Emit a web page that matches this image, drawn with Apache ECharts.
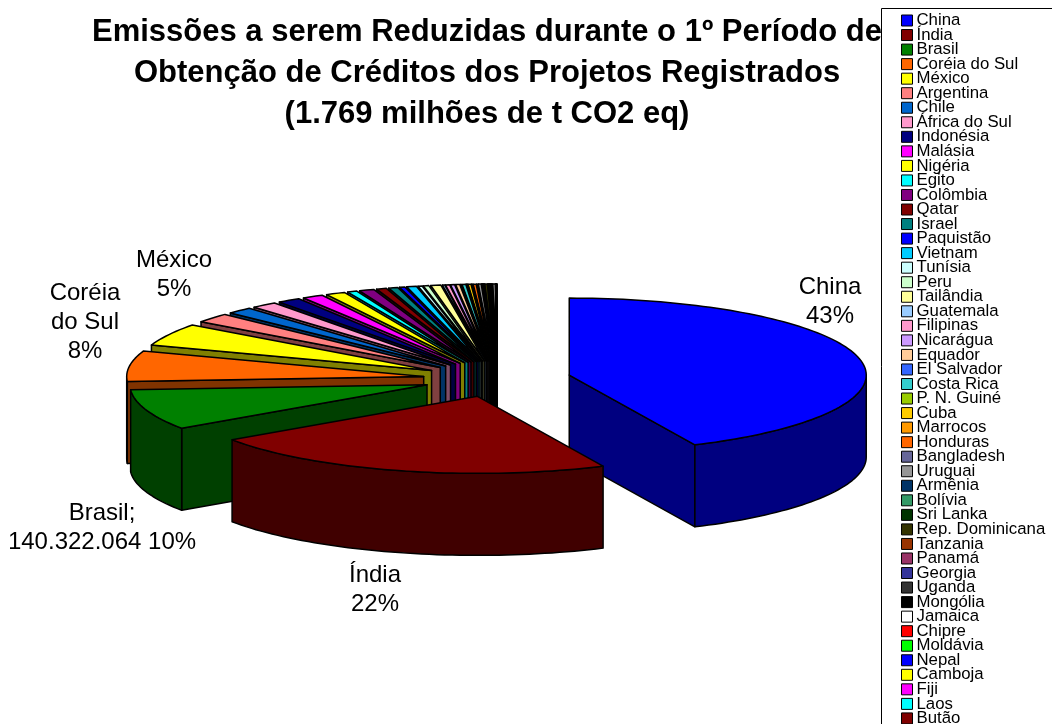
<!DOCTYPE html>
<html><head><meta charset="utf-8">
<style>html,body{margin:0;padding:0;background:#fff}#c{width:1052px;height:724px}</style>
<script src="https://cdn.jsdelivr.net/npm/echarts@6/dist/echarts.min.js"></script>
</head><body><div id="c"></div>
<script>
const titleText = 'Emissões a serem Reduzidas durante o 1º Período de\nObtenção de Créditos dos Projetos Registrados\n(1.769 milhões de t CO2 eq)';
const countries = ['China','Índia','Brasil','Coréia do Sul','México','Argentina','Chile','África do Sul','Indonésia','Malásia','Nigéria','Egito','Colômbia','Qatar','Israel','Paquistão','Vietnam','Tunísia','Peru','Tailândia','Guatemala','Filipinas','Nicarágua','Equador','El Salvador','Costa Rica','P. N. Guiné','Cuba','Marrocos','Honduras','Bangladesh','Uruguai','Armênia','Bolívia','Sri Lanka','Rep. Dominicana','Tanzania','Panamá','Georgia','Uganda','Mongólia','Jamaica','Chipre','Moldávia','Nepal','Camboja','Fiji','Laos','Butão'];
const shares = [43,22.4,8.5,6.4,4.7,2,1.4,1.4,1.25,1.15,1.05,.53,.8,.55,.5,.3,.53,.22,.3,.55,.12,.22,.22,.22,.06,.2,.06,.16,.06,.16,.06,.16,.04,.04,.04,.14,.04,.04,.04,.04,.05,.12,.01,.01,.01,.01,.01,.01,.01];
const colors = ['#0000FF','#800000','#008000','#FF6600','#FFFF00','#FF8080','#0066CC','#FF99CC','#000080','#FF00FF','#FFFF00','#00FFFF','#800080','#800000','#008080','#0000FF','#00CCFF','#CCFFFF','#CCFFCC','#FFFF99','#99CCFF','#FF99CC','#CC99FF','#FFCC99','#3366FF','#33CCCC','#99CC00','#FFCC00','#FF9900','#FF6600','#666699','#969696','#003366','#339966','#003300','#333300','#993300','#993366','#333399','#333333','#000000','#FFFFFF','#FF0000','#00FF00','#0000FF','#FFFF00','#FF00FF','#00FFFF','#800000'];
const dataLabels = ['China\n43%','Índia\n22%','Brasil;\n140.322.064 10%','Coréia\ndo Sul\n8%','México\n5%'];

const labelLayout = [[830,302],[375,590],[102,528],[85,322],[174,275]];
const pie = {cx:497, cy:379, rx:297, ry:77, depth:82, ex:74, ey:18};

const total = shares.reduce((a,b)=>a+b,0);
let run = 0;
const spans = shares.map(v=>{const s=run/total*360; run+=v; return [s,run/total*360,v];});
const rad = d=>d*Math.PI/180;
const rankOf = spans.map((s,i)=>({i,c:Math.cos(rad((s[0]+s[1])/2))}))
  .sort((a,b)=> (b.c-a.c) || (b.i-a.i)).reduce((m,o,r)=>{m[o.i]=r;return m;},{});
function shade(hex){
  const n=parseInt(hex.slice(1),16);
  const h=x=>Math.round(x/2).toString(16).padStart(2,'0');
  return '#'+h(n>>16&255)+h(n>>8&255)+h(n&255);
}
function makeRender(color){
  return function(params,api){
    const s=api.value(0), e=api.value(1), m=(s+e)/2;
    const ax=pie.cx+pie.ex*Math.sin(rad(m)), ay=pie.cy-pie.ey*Math.cos(rad(m));
    const pt=t=>[ax+pie.rx*Math.sin(rad(t)), ay-pie.ry*Math.cos(rad(t))];
    const arc=(a,b)=>{const n=Math.max(1,Math.ceil((b-a)/1.5)),o=[];for(let k=0;k<=n;k++)o.push(pt(a+(b-a)*k/n));return o;};
    const down=p=>[p[0],p[1]+pie.depth];
    const side={fill:shade(color),stroke:'#000',lineWidth:1.5,lineJoin:'round'};
    const kids=[];
    const poly=(pts,style)=>kids.push({type:'polygon',shape:{points:pts},style:style,silent:true});
    if(s>=180){const p=pt(s);poly([[ax,ay],p,down(p),down([ax,ay])],side);}
    if(e<=180){const p=pt(e);poly([[ax,ay],p,down(p),down([ax,ay])],side);}
    const a=Math.max(s,90), b=Math.min(e,270);
    if(b>a){const top=arc(a,b);poly(top.concat(top.slice().reverse().map(down)),side);}
    poly([[ax,ay]].concat(arc(s,e)),{fill:color,stroke:'#000',lineWidth:1.5,lineJoin:'round'});
    return {type:'group',children:kids};
  };
}
const labelFont='"Liberation Sans", Arial, sans-serif';
const chart=echarts.init(document.getElementById('c'),null,{renderer:'canvas'});
chart.setOption({
  animation:false,
  backgroundColor:'#fff',
  title:{text:titleText,left:482,top:7,textAlign:'center',z:1,
    textStyle:{fontFamily:labelFont,fontWeight:'bold',fontSize:31,lineHeight:41,color:'#000'}},
  legend:{orient:'vertical',left:901,top:12,height:800,itemWidth:11,itemHeight:11,itemGap:-2.46,icon:'rect',z:200,
    selectedMode:false,padding:0,data:countries,
    itemStyle:{borderColor:'#000',borderWidth:1},
    textStyle:{fontFamily:labelFont,fontSize:16.8,color:'#000',padding:[0,0,0,-1]}},
  graphic:[
    {type:'rect',z:100,shape:{x:881.5,y:8.5,width:400,height:900},style:{fill:'#fff',stroke:'#000',lineWidth:1}},
    ...dataLabels.map((t,i)=>({type:'text',z:150,x:labelLayout[i][0],y:labelLayout[i][1],
      style:{text:t,fill:'#000',font:'24px '+labelFont,lineHeight:29,align:'center',verticalAlign:'middle'}})),
    {type:'rect',z:160,shape:{x:0,y:525,width:10,height:35},style:{fill:'#fff'}}
  ],
  series:countries.map((name,i)=>({
    type:'custom',name,coordinateSystem:'none',z:2+rankOf[i],
    itemStyle:{color:colors[i]},
    renderItem:makeRender(colors[i]),
    data:[{value:spans[i]}]
  }))
});
</script></body></html>
